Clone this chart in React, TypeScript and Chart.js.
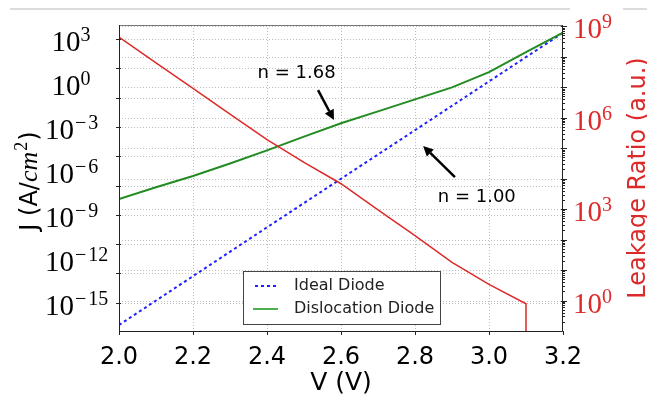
import React, { useEffect, useRef } from 'react';
import { Chart, registerables } from 'chart.js';

Chart.register(...registerables);

// ---- data ----
const voltage = [2.0, 2.1, 2.2, 2.3, 2.4, 2.5, 2.6, 2.7, 2.8, 2.9, 3.0, 3.1, 3.2];
const dislocationJ = [1.2e-8, 7.6e-8, 4.5e-7, 3.2e-6, 2.5e-5, 2.2e-4, 1.8e-3, 1.15e-2, 7.6e-2, 0.5, 5.5, 126, 2.7e3];
const idealV = [2.0, 2.4, 2.8, 3.2];
const idealJ = [3.0e-17, 1.4e-10, 6.0e-4, 2.7e3];
const leakageV = [2.0, 2.1, 2.2, 2.3, 2.4, 2.5, 2.6, 2.7, 2.8, 2.9, 3.0, 3.1, 3.1];
const leakageRatio = [4.4e8, 6.3e7, 9.1e6, 1.32e6, 1.9e5, 3.4e4, 6.8e3, 9.5e2, 135, 17.8, 3.4, 0.78, 1e-4];

const xTicks = [2.0, 2.2, 2.4, 2.6, 2.8, 3.0, 3.2];
const jTickExponents = [3, 1, -1, -3, -5, -7, -9, -11, -13, -15];
const jLabelExponents = [3, 0, -3, -6, -9, -12, -15];
const ratioTickExponents = [0, 1, 2, 3, 4, 5, 6, 7, 8, 9];
const ratioLabelExponents = [0, 3, 6, 9];
const seriesLabels = ['Ideal Diode', 'Dislocation Diode', 'Leakage Ratio'];
const annotationTexts = ['n = 1.68', 'n = 1.00'];
const annotationTextAt = [[2.48, 4.6], [2.967, 1.48e-8]];
const annotationTail = [[2.538, 0.33], [2.908, 3.8e-7]];
const annotationTip = [[2.581, 2.95e-3], [2.822, 5.0e-5]];

const SANS = '"DejaVu Sans", sans-serif';
const SERIF = '"Liberation Serif", serif';
const RED = '#dc2a2a';
const BLUE = '#1f1fff';
const GREEN = '#228b22';

function drawPower(ctx: any, x0: number, yTick: number, exp: number, color: string) {
  ctx.fillStyle = color;
  ctx.textAlign = 'left';
  ctx.textBaseline = 'alphabetic';
  ctx.font = `29px ${SERIF}`;
  ctx.fillText('10', x0, yTick + 12);
  let x = x0 + ctx.measureText('10').width;
  ctx.font = `20px ${SERIF}`;
  if (exp < 0) {
    ctx.fillText('\u2212', x + 1, yTick + 2);
    x += ctx.measureText('\u2212').width + 3;
  }
  ctx.fillText(String(Math.abs(exp)), x, yTick + 2);
}

function drawArrow(ctx: any, x1: number, y1: number, x2: number, y2: number) {
  const ang = Math.atan2(y2 - y1, x2 - x1);
  const hl = 10, hw = 5;
  const bx = x2 - hl * Math.cos(ang), by = y2 - hl * Math.sin(ang);
  ctx.save();
  ctx.strokeStyle = '#000';
  ctx.fillStyle = '#000';
  ctx.lineWidth = 2.5;
  ctx.setLineDash([]);
  ctx.beginPath();
  ctx.moveTo(x1, y1);
  ctx.lineTo(bx, by);
  ctx.stroke();
  ctx.beginPath();
  ctx.moveTo(x2, y2);
  ctx.lineTo(bx - hw * Math.sin(ang), by + hw * Math.cos(ang));
  ctx.lineTo(bx + hw * Math.sin(ang), by - hw * Math.cos(ang));
  ctx.closePath();
  ctx.fill();
  ctx.restore();
}

const gridPlugin = {
  id: 'customGrid',
  beforeDatasetsDraw(chart: any) {
    const { ctx, chartArea: ca, scales } = chart;
    ctx.save();
    ctx.strokeStyle = '#bdbdbd';
    ctx.lineWidth = 1;
    ctx.setLineDash([1, 2]);
    const hline = (y: number) => {
      if (y <= ca.top + 1 || y >= ca.bottom - 1) return;
      const yy = Math.round(y) + 0.5;
      ctx.beginPath(); ctx.moveTo(ca.left, yy); ctx.lineTo(ca.right, yy); ctx.stroke();
    };
    xTicks.forEach((v) => {
      const x = scales.x.getPixelForValue(v);
      if (x <= ca.left + 1 || x >= ca.right - 1) return;
      const xx = Math.round(x) + 0.5;
      ctx.beginPath(); ctx.moveTo(xx, ca.top); ctx.lineTo(xx, ca.bottom); ctx.stroke();
    });
    jTickExponents.forEach((e) => hline(scales.y.getPixelForValue(Math.pow(10, e))));
    ratioTickExponents.forEach((e) => hline(scales.y2.getPixelForValue(Math.pow(10, e))));
    ctx.restore();
  },
  afterDraw(chart: any) {
    const { ctx, chartArea: ca, scales } = chart;
    ctx.save();
    ctx.setLineDash([]);
    // page separator line
    ctx.strokeStyle = '#dcdcdc';
    ctx.lineWidth = 2;
    ctx.beginPath(); ctx.moveTo(10, 9); ctx.lineTo(570, 9); ctx.stroke();
    ctx.beginPath(); ctx.moveTo(623, 9); ctx.lineTo(647, 9); ctx.stroke();

    // spines
    ctx.lineWidth = 1;
    ctx.strokeStyle = '#777';
    ctx.beginPath(); ctx.moveTo(ca.left, ca.top + 0.5); ctx.lineTo(ca.right, ca.top + 0.5); ctx.stroke();
    ctx.strokeStyle = '#222';
    ctx.beginPath();
    ctx.moveTo(ca.left + 0.5, ca.top); ctx.lineTo(ca.left + 0.5, ca.bottom + 0.5);
    ctx.lineTo(ca.right - 0.5, ca.bottom + 0.5); ctx.lineTo(ca.right - 0.5, ca.top);
    ctx.stroke();

    // tick marks
    ctx.strokeStyle = '#222';
    xTicks.forEach((v) => {
      const x = Math.round(scales.x.getPixelForValue(v)) + 0.5;
      ctx.beginPath(); ctx.moveTo(x, ca.bottom); ctx.lineTo(x, ca.bottom + 4); ctx.stroke();
    });
    jTickExponents.forEach((e) => {
      const y = Math.round(scales.y.getPixelForValue(Math.pow(10, e))) + 0.5;
      ctx.beginPath(); ctx.moveTo(ca.left - 3, y); ctx.lineTo(ca.left + 2, y); ctx.stroke();
    });
    ratioTickExponents.forEach((e) => {
      const y = Math.round(scales.y2.getPixelForValue(Math.pow(10, e))) + 0.5;
      ctx.beginPath(); ctx.moveTo(ca.right - 2, y); ctx.lineTo(ca.right + 4, y); ctx.stroke();
    });
    for (let k = -1; k <= 9; k++) {
      for (let m = 2; m <= 9; m++) {
        const v = m * Math.pow(10, k);
        if (v < scales.y2.min || v > scales.y2.max) continue;
        const y = Math.round(scales.y2.getPixelForValue(v)) + 0.5;
        ctx.beginPath(); ctx.moveTo(ca.right - 1, y); ctx.lineTo(ca.right + 2, y); ctx.stroke();
      }
    }

    // left tick labels
    jLabelExponents.forEach((e) => {
      const y = scales.y.getPixelForValue(Math.pow(10, e));
      drawPower(ctx, e < 0 ? 45 : 51.5, y, e, '#000');
    });
    // right tick labels
    ratioLabelExponents.forEach((e) => {
      const y = scales.y2.getPixelForValue(Math.pow(10, e));
      drawPower(ctx, 573, y, e, RED);
    });

    // x title
    ctx.fillStyle = '#000';
    ctx.font = `25px ${SANS}`;
    ctx.textAlign = 'center';
    ctx.textBaseline = 'alphabetic';
    ctx.fillText('V (V)', (ca.left + ca.right) / 2, 390);

    // left title (rotated, mixed fonts)
    const pieces = [
      { t: 'J (A/', f: `24px ${SANS}`, dy: 0 },
      { t: 'cm', f: `italic 26px ${SERIF}`, dy: 0 },
      { t: '2', f: `18px ${SERIF}`, dy: -10 },
      { t: ')', f: `24px ${SANS}`, dy: 0 },
    ];
    let total = 0;
    pieces.forEach((p) => { ctx.font = p.f; total += ctx.measureText(p.t).width + (p.t === '2' ? 2 : 0); });
    ctx.save();
    ctx.translate(37, 181);
    ctx.rotate(-Math.PI / 2);
    ctx.textAlign = 'left';
    let px = -total / 2;
    pieces.forEach((p) => {
      ctx.font = p.f;
      ctx.fillText(p.t, px + (p.t === '2' ? 1 : 0), p.dy);
      px += ctx.measureText(p.t).width + (p.t === '2' ? 2 : 0);
    });
    ctx.restore();

    // right title
    ctx.save();
    ctx.translate(645, 178);
    ctx.rotate(-Math.PI / 2);
    ctx.fillStyle = RED;
    ctx.font = `24px ${SANS}`;
    ctx.textAlign = 'center';
    ctx.fillText(seriesLabels[2] + ' (a.u.)', 0, 0);
    ctx.restore();

    // legend
    ctx.fillStyle = '#fff';
    ctx.fillRect(243.5, 271.5, 197, 53);
    ctx.strokeStyle = '#444';
    ctx.lineWidth = 1;
    ctx.strokeRect(243.5, 271.5, 197, 53);
    ctx.lineWidth = 2;
    ctx.strokeStyle = BLUE;
    ctx.setLineDash([3, 3]);
    ctx.beginPath(); ctx.moveTo(255, 286); ctx.lineTo(278, 286); ctx.stroke();
    ctx.setLineDash([]);
    ctx.strokeStyle = '#4caf50';
    ctx.beginPath(); ctx.moveTo(253, 309); ctx.lineTo(278, 309); ctx.stroke();
    ctx.fillStyle = '#222';
    ctx.font = `16px ${SANS}`;
    ctx.textAlign = 'left';
    ctx.textBaseline = 'middle';
    ctx.fillText(seriesLabels[0], 294, 286);
    ctx.fillText(seriesLabels[1], 294, 309);

    // annotations
    ctx.fillStyle = '#000';
    ctx.font = `18px ${SANS}`;
    ctx.textAlign = 'center';
    ctx.textBaseline = 'middle';
    annotationTexts.forEach((t, i) => {
      const tx = scales.x.getPixelForValue(annotationTextAt[i][0]);
      const ty = scales.y.getPixelForValue(annotationTextAt[i][1]);
      ctx.fillText(t, tx, ty);
      drawArrow(
        ctx,
        scales.x.getPixelForValue(annotationTail[i][0]),
        scales.y.getPixelForValue(annotationTail[i][1]),
        scales.x.getPixelForValue(annotationTip[i][0]),
        scales.y.getPixelForValue(annotationTip[i][1])
      );
    });
    ctx.restore();
  },
};

export default function App() {
  const ref = useRef<HTMLCanvasElement | null>(null);
  useEffect(() => {
    if (!ref.current) return;
    const chart = new Chart(ref.current, {
      type: 'line',
      data: {
        datasets: [
          {
            label: seriesLabels[2],
            data: leakageV.map((v, i) => ({ x: v, y: leakageRatio[i] })),
            yAxisID: 'y2',
            borderColor: RED,
            borderWidth: 1.5,
            pointRadius: 0,
            fill: false,
            tension: 0,
            order: 0,
          },
          {
            label: seriesLabels[1],
            data: voltage.map((v, i) => ({ x: v, y: dislocationJ[i] })),
            yAxisID: 'y',
            borderColor: GREEN,
            borderWidth: 2,
            pointRadius: 0,
            fill: false,
            tension: 0,
            order: 1,
          },
          {
            label: seriesLabels[0],
            data: idealV.map((v, i) => ({ x: v, y: idealJ[i] })),
            yAxisID: 'y',
            borderColor: BLUE,
            borderWidth: 2,
            borderDash: [3, 3],
            pointRadius: 0,
            fill: false,
            tension: 0,
            order: 2,
          },
        ],
      } as any,
      options: {
        responsive: false,
        animation: false,
        layout: { padding: { top: 25, left: 0, right: 0, bottom: 0 } },
        plugins: { legend: { display: false }, tooltip: { enabled: false } },
        scales: {
          x: {
            type: 'linear',
            min: 2.0,
            max: 3.2,
            afterBuildTicks: (s: any) => { s.ticks = xTicks.map((v) => ({ value: v })); },
            afterFit: (s: any) => { s.height = 65; },
            grid: { display: false },
            border: { display: false },
            ticks: {
              font: { family: SANS, size: 24 },
              color: '#000',
              padding: 4,
              maxRotation: 0,
              autoSkip: false,
              callback: (v: any) => Number(v).toFixed(1),
            },
          },
          y: {
            type: 'logarithmic',
            position: 'left',
            min: 1.17e-17,
            max: 9.1e3,
            afterFit: (s: any) => { s.width = 119; },
            grid: { display: false },
            border: { display: false },
            ticks: { display: false },
          },
          y2: {
            type: 'logarithmic',
            position: 'right',
            min: 0.1,
            max: 1.1e9,
            afterFit: (s: any) => { s.width = 84; },
            grid: { display: false },
            border: { display: false },
            ticks: { display: false },
          },
        },
      } as any,
      plugins: [gridPlugin],
    });
    return () => chart.destroy();
  }, []);
  return (
    <div style={{ position: 'absolute', left: 0, top: 0, width: 647, height: 396, background: '#fff' }}>
      <canvas ref={ref} width={647} height={396} style={{ display: 'block' }} />
    </div>
  );
}
